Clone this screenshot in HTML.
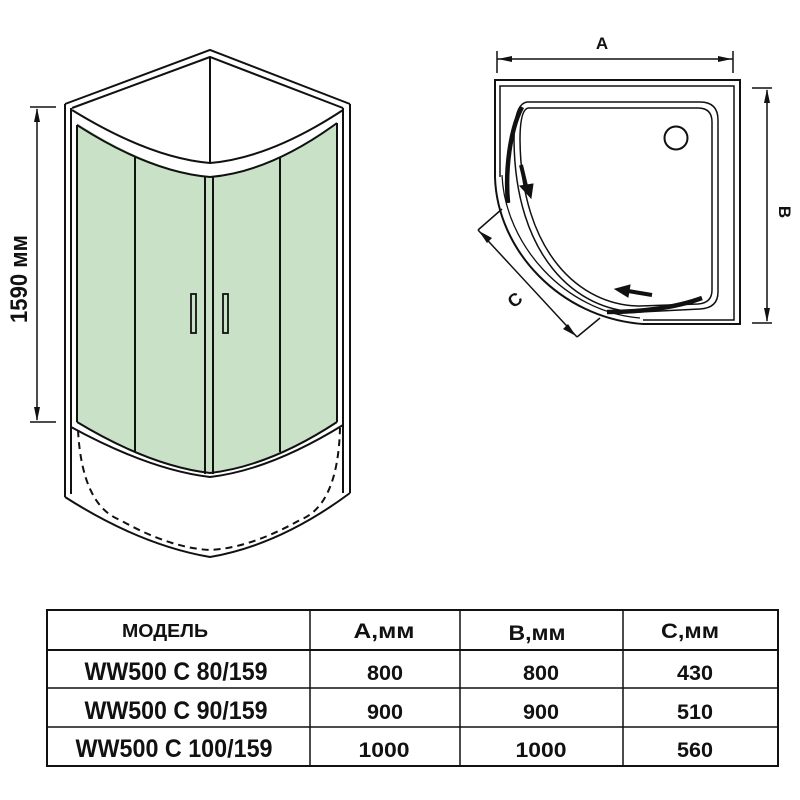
<!DOCTYPE html>
<html><head><meta charset="utf-8"><style>
html,body{margin:0;padding:0;background:#fff}
svg{display:block}
text{font-family:"Liberation Sans",sans-serif;font-weight:bold;fill:#111}
</style></head><body>
<svg width="800" height="800" viewBox="0 0 800 800" xmlns="http://www.w3.org/2000/svg">
<g fill="none" stroke="#111" stroke-width="2">
<path d="M77,123 Q150,170 210,177 Q270,170 337,123 L337,422 Q270,466 210,473 Q150,466 77,422 Z" fill="#c9e1c6" stroke="none"/>
<path d="M65,104 L210,50 L350,104"/>
<path d="M72,108 L210,57 L343,108"/>
<line x1="65" y1="104" x2="65" y2="497"/>
<line x1="71" y1="108" x2="71" y2="494"/>
<line x1="350" y1="104" x2="350" y2="493"/>
<line x1="343" y1="108" x2="343" y2="493"/>
<path d="M65,497 Q140,545 210,557 Q280,545 350,493"/>
<path d="M72,110 Q150,158 210,163 Q270,158 343,110"/>
<path d="M77,125 Q150,172 210,177 Q270,172 337,123"/>
<line x1="210" y1="57" x2="210" y2="163"/>
<line x1="77" y1="125" x2="77" y2="422"/>
<line x1="337" y1="123" x2="337" y2="422"/>
<path d="M71,427 Q150,470 210,477 Q270,470 343,425"/>
<path d="M77,422 Q150,466 210,473 Q270,466 337,422"/>
<line x1="135" y1="157" x2="135" y2="452"/>
<line x1="205" y1="177" x2="205" y2="474"/>
<line x1="213" y1="177" x2="213" y2="474"/>
<line x1="280" y1="158" x2="280" y2="452"/>
<rect x="191" y="294" width="5" height="39" stroke-width="1.8"/>
<rect x="223" y="294" width="5" height="39" stroke-width="1.8"/>
<path d="M78,430 Q82,505 120,520 Q170,548 210,550 Q250,548 300,520 Q338,505 340,428" stroke-dasharray="7,5"/>
<line x1="37" y1="109" x2="37" y2="420" stroke-width="1.5"/>
<line x1="30" y1="107" x2="56" y2="107" stroke-width="1.5"/>
<line x1="30" y1="422" x2="56" y2="422" stroke-width="1.5"/>
<path d="M37,108 L34,122 L40,122 Z M37,421 L34,407 L40,407 Z" fill="#111" stroke="none"/>

<line x1="497" y1="59" x2="733" y2="59" stroke-width="1.5"/>
<line x1="497" y1="51" x2="497" y2="73" stroke-width="1.5"/>
<line x1="733" y1="51" x2="733" y2="73" stroke-width="1.5"/>
<path d="M498,59 L512,56 L512,62 Z M732,59 L718,56 L718,62 Z" fill="#111" stroke="none"/>
<path d="M495,177 L495,80 L740,80 L740,324 L643,324"/>
<path d="M643,320 L734,320 L734,86 L500,86 L500,177" stroke-width="1.5"/>
<path d="M495,177 C497,250 560,318 643,324"/>
<path d="M502,175 C505,245 565,312 640,318" stroke-width="1.3"/>
<path d="M527,102 L700,102 Q718,102 718,120 L718,292 Q718,308 700,309 L640,312 C575,312 515,255 514,140 Q514,104 527,102" stroke-width="1.5"/>
<path d="M528,108 L698,108 Q712,108 712,122 L712,290 Q712,303 698,304 L640,306 C580,306 521,252 520,140 Q520,110 528,108" stroke-width="1.5"/>
<path d="M522,107 C510,130 505,170 508,203" stroke-width="4.5"/>
<path d="M607,312 C640,312 675,308 702,298" stroke-width="4.5"/>
<path d="M521,165 L526,186" stroke-width="4"/>
<path d="M520,186 L531,198 L533,184 Z" fill="#111" stroke="#111" stroke-width="1"/>
<path d="M652,295 L628,291" stroke-width="4"/>
<path d="M630,285 L615,289 L628,297 Z" fill="#111" stroke="#111" stroke-width="1"/>
<circle cx="676" cy="138" r="11.5"/>
<line x1="767" y1="90" x2="767" y2="321" stroke-width="1.5"/>
<line x1="752" y1="88" x2="772" y2="88" stroke-width="1.5"/>
<line x1="752" y1="323" x2="772" y2="323" stroke-width="1.5"/>
<path d="M767,89 L764,103 L770,103 Z M767,322 L764,308 L770,308 Z" fill="#111" stroke="none"/>
<line x1="478" y1="230" x2="577" y2="337" stroke-width="1.5"/>
<line x1="478" y1="230" x2="502" y2="209" stroke-width="1.5"/>
<line x1="577" y1="337" x2="600" y2="318" stroke-width="1.5"/>
<path d="M479,231 L492,238 L487,243 Z M576,336 L563,329 L568,324 Z" fill="#111" stroke="none"/>
<rect x="47" y="610" width="731" height="156" stroke-width="2"/>
<line x1="47" y1="650" x2="778" y2="650" stroke-width="2"/>
<line x1="47" y1="688" x2="778" y2="688" stroke-width="1.5"/>
<line x1="47" y1="727" x2="778" y2="727" stroke-width="1.5"/>
<line x1="310" y1="610" x2="310" y2="766" stroke-width="1.5"/>
<line x1="460" y1="610" x2="460" y2="766" stroke-width="1.5"/>
<line x1="623" y1="610" x2="623" y2="766" stroke-width="1.5"/>
</g>
<text x="0" y="0" font-size="24" text-anchor="middle" textLength="88" lengthAdjust="spacingAndGlyphs" transform="translate(27,279) rotate(-90)">1590 мм</text>
<text x="602" y="49" font-size="17" text-anchor="middle">A</text>
<text x="0" y="0" font-size="17" text-anchor="middle" transform="translate(779,212) rotate(90)">B</text>
<text x="0" y="0" font-size="18" text-anchor="middle" transform="translate(515,300) rotate(-40) translate(0,6)">C</text>
<g text-anchor="middle">
<text x="165" y="637" font-size="18" textLength="86" lengthAdjust="spacingAndGlyphs">МОДЕЛЬ</text>
<text x="384" y="638" font-size="21" textLength="61" lengthAdjust="spacingAndGlyphs">A,мм</text>
<text x="537" y="640" font-size="21" textLength="57" lengthAdjust="spacingAndGlyphs">B,мм</text>
<text x="690" y="638" font-size="21" textLength="58" lengthAdjust="spacingAndGlyphs">C,мм</text>
<text x="176" y="680" font-size="25" textLength="183" lengthAdjust="spacingAndGlyphs">WW500 C 80/159</text>
<text x="385" y="680" font-size="21" textLength="36" lengthAdjust="spacingAndGlyphs">800</text>
<text x="541" y="680" font-size="21" textLength="36" lengthAdjust="spacingAndGlyphs">800</text>
<text x="695" y="680" font-size="21" textLength="36" lengthAdjust="spacingAndGlyphs">430</text>
<text x="176" y="719" font-size="25" textLength="183" lengthAdjust="spacingAndGlyphs">WW500 C 90/159</text>
<text x="385" y="719" font-size="21" textLength="36" lengthAdjust="spacingAndGlyphs">900</text>
<text x="541" y="719" font-size="21" textLength="36" lengthAdjust="spacingAndGlyphs">900</text>
<text x="695" y="719" font-size="21" textLength="36" lengthAdjust="spacingAndGlyphs">510</text>
<text x="174" y="757" font-size="25" textLength="197" lengthAdjust="spacingAndGlyphs">WW500 C 100/159</text>
<text x="384" y="757" font-size="21" textLength="51" lengthAdjust="spacingAndGlyphs">1000</text>
<text x="541" y="757" font-size="21" textLength="51" lengthAdjust="spacingAndGlyphs">1000</text>
<text x="695" y="757" font-size="21" textLength="36" lengthAdjust="spacingAndGlyphs">560</text>
</g>
</svg>
</body></html>
